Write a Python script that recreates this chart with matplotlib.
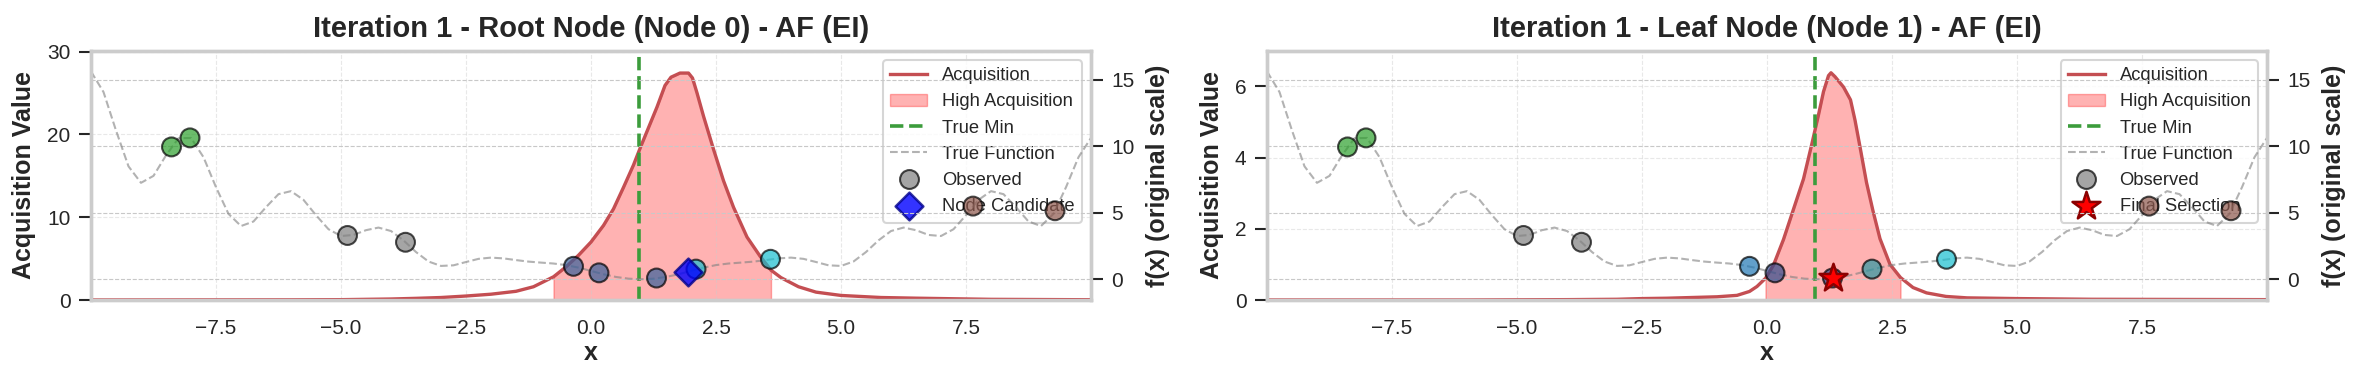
import matplotlib
matplotlib.use("Agg")
import matplotlib.pyplot as plt
import numpy as np
from matplotlib.lines import Line2D

plt.rcParams['font.family'] = ['Liberation Sans', 'DejaVu Sans']
plt.rcParams['text.color'] = '#262626'
plt.rcParams['axes.labelcolor'] = '#262626'

# ---------------- data ----------------
# true function f(x), sampled every 0.25 from -10 to 10
true_f = [15.625, 14.079, 11.189, 8.490, 7.250, 7.774, 9.314, 10.604, 10.625, 9.178,
          6.920, 4.915, 4.000, 4.342, 5.420, 6.398, 6.625, 5.970, 4.814, 3.761,
          3.250, 3.331, 3.689, 3.884, 3.625, 2.922, 2.045, 1.332, 1.000, 1.046,
          1.295, 1.532, 1.625, 1.567, 1.439, 1.325, 1.250, 1.181, 1.064, 0.872,
          0.625, 0.374, 0.170, 0.043, 0.000, 0.043, 0.170, 0.374, 0.625, 0.872,
          1.064, 1.181, 1.250, 1.325, 1.439, 1.567, 1.625, 1.532, 1.295, 1.046,
          1.000, 1.332, 2.045, 2.922, 3.625, 3.884, 3.689, 3.331, 3.250, 3.761,
          4.814, 5.970, 6.625, 6.398, 5.420, 4.342, 4.000, 4.915, 6.920, 9.178,
          10.625]
true_x = np.linspace(-10, 10, len(true_f))
true_min_x = 0.955

# observed points
obs_x = [-8.39, -8.02, -4.87, -3.71, -0.35, 0.16, 1.31, 2.10, 3.59, 7.64, 9.28]
obs_f = [9.95, 10.63, 3.29, 2.78, 0.97, 0.48, 0.09, 0.76, 1.50, 5.50, 5.15]
obs_colors_root = ['#2ca02c', '#2ca02c', '#7f7f7f', '#7f7f7f', '#37609b', '#37609b',
                   '#37609b', '#17becf', '#17becf', '#8c564b', '#8c564b']
obs_colors_leaf = ['#2ca02c', '#2ca02c', '#7f7f7f', '#7f7f7f', '#1f77b4', '#314a8b',
                   '#314a8b', '#2a98a2', '#17becf', '#8c564b', '#8c564b']

# acquisition (EI) - root node
acq_root_x = [-10, -8, -6, -5, -4, -3.5, -3, -2.5, -2, -1.5, -1.15, -0.75, -0.5, -0.25,
              0, 0.25, 0.45, 0.65, 0.85, 1.0, 1.15, 1.32, 1.48, 1.6, 1.78, 1.95, 2.03,
              2.12, 2.25, 2.45, 2.65, 2.85, 3.12, 3.38, 3.6, 3.8, 4.15, 4.5, 5.0, 5.8,
              6.5, 8, 10]
acq_root_y = [0.0, 0.01, 0.02, 0.04, 0.12, 0.2, 0.3, 0.48, 0.7, 1.05, 1.6, 2.8, 4.0, 5.4,
              7.0, 9.0, 11.0, 13.6, 16.3, 18.6, 20.8, 23.3, 25.9, 26.9, 27.4, 27.4, 26.8,
              25.0, 22.2, 18.2, 14.4, 11.2, 7.6, 5.3, 3.6, 2.7, 1.6, 0.95, 0.55, 0.3,
              0.22, 0.08, 0.03]
high_root = (-0.75, 3.6)
cand_root = (1.93, 0.55)

# acquisition (EI) - leaf node
acq_leaf_x = [-10, -6, -4, -3, -2.5, -2, -1.5, -1.0, -0.6, -0.35, -0.2, -0.03, 0.13, 0.33,
              0.53, 0.73, 0.9, 1.03, 1.13, 1.23, 1.28, 1.36, 1.53, 1.67, 1.76, 1.86, 1.99,
              2.12, 2.26, 2.46, 2.67, 2.92, 3.19, 3.58, 4.0, 5.0, 6.5, 10]
acq_leaf_y = [0.0, 0.0, 0.01, 0.02, 0.04, 0.05, 0.07, 0.09, 0.13, 0.24, 0.38, 0.61, 0.98,
              1.7, 2.55, 3.4, 4.4, 5.2, 5.85, 6.3, 6.38, 6.27, 5.98, 5.62, 5.05, 4.3, 3.3,
              2.5, 1.72, 1.0, 0.63, 0.35, 0.2, 0.1, 0.06, 0.04, 0.02, 0.01]
high_leaf = (-0.03, 2.67)
final_sel = (1.32, 0.12)

x_ticks = [-7.5, -5.0, -2.5, 0.0, 2.5, 5.0, 7.5]
f_ticks = [0, 5, 10, 15]

panels = [
    dict(title='Iteration 1 - Root Node (Node 0) - AF (EI)', ax_x=acq_root_x, ax_y=acq_root_y,
         high=high_root, ymax=30.1, yticks=[0, 10, 20, 30], colors=obs_colors_root,
         left=91 / 2358, kind='cand'),
    dict(title='Iteration 1 - Leaf Node (Node 1) - AF (EI)', ax_x=acq_leaf_x, ax_y=acq_leaf_y,
         high=high_leaf, ymax=7.0, yticks=[0, 2, 4, 6], colors=obs_colors_leaf,
         left=1267 / 2358, kind='final'),
]

fig = plt.figure(figsize=(23.58, 3.86), dpi=100)
fig.patch.set_facecolor('white')

SPINE = '#cccccc'
TXT = '#262626'

for p in panels:
    ax = fig.add_axes([p['left'], 86 / 386, 1000 / 2358, 249.3 / 386])
    ax.set_facecolor('white')
    xa = np.array(p['ax_x'], dtype=float)
    ya = np.array(p['ax_y'], dtype=float)
    lo, hi = p['high']
    mask = (xa >= lo - 1e-9) & (xa <= hi + 1e-9)
    ax.plot(xa, ya, color='#C44E52', lw=2.4, label='Acquisition', zorder=3)
    ax.fill_between(xa, 0, ya, where=mask, color='red', alpha=0.3, lw=1.0,
                    label='High Acquisition', zorder=1)
    ax.axvline(true_min_x, color='#3c9c3c', ls='--', lw=2.6, label='True Min', zorder=4)
    ax.set_xlim(-10, 10)
    ax.set_ylim(0, p['ymax'])
    ax.set_xticks(x_ticks)
    ax.set_yticks(p['yticks'])
    ax.grid(True, ls='--', lw=0.8, color='#cccccc', alpha=0.45)
    ax.tick_params(axis='y', length=8.3, width=1.5, pad=6.5, labelsize=15, colors=TXT)
    ax.tick_params(axis='x', length=0, pad=13.5, labelsize=15, colors=TXT)
    for s in ax.spines.values():
        s.set_color(SPINE)
        s.set_linewidth(2.4)
    ax.set_xlabel('x', fontsize=18, fontweight='bold', labelpad=2)
    ax.set_ylabel('Acquisition Value', fontsize=18, fontweight='bold', labelpad=8)
    ax.set_title(p['title'], fontsize=21, fontweight='bold', pad=10)

    ax2 = ax.twinx()
    ax2.plot(true_x, true_f, color='#808080', ls='--', lw=1.5, alpha=0.6,
             label='True Function', zorder=2)
    ax2.scatter(obs_x, obs_f, c=p['colors'], s=185, alpha=0.7, edgecolors='black',
                linewidths=1.5, zorder=5)
    if p['kind'] == 'cand':
        mk = ax2.scatter([cand_root[0]], [cand_root[1]], marker='D', s=200, c='blue',
                         alpha=0.8, edgecolors='darkblue', linewidths=1.8, zorder=6,
                         label='Node Candidate')
        mk_label = 'Node Candidate'
    else:
        mk = ax2.scatter([final_sel[0]], [final_sel[1]], marker='*', s=450, c='red',
                         edgecolors='darkred', linewidths=1.8, zorder=6,
                         label='Final Selection')
        mk_label = 'Final Selection'
    ax2.set_ylim(-1.5625, 17.1875)
    ax2.set_yticks(f_ticks)
    ax2.grid(True, ls='--', lw=0.8, color='#c8c8c8')
    ax2.tick_params(axis='y', length=8.3, width=1.5, pad=6.5, labelsize=15, colors=TXT)
    for s in ax2.spines.values():
        s.set_color(SPINE)
        s.set_linewidth(2.4)
    ax2.set_ylabel('f(x) (original scale)', fontsize=18, fontweight='bold', labelpad=8)

    h1, l1 = ax.get_legend_handles_labels()
    tf = ax2.get_lines()[0]
    obs_proxy = Line2D([], [], ls='none', marker='o', markersize=np.sqrt(185),
                       markerfacecolor='#7f7f7f', markeredgecolor='black',
                       markeredgewidth=1.5, alpha=0.7)
    handles = h1 + [tf, obs_proxy, mk]
    labels = l1 + ['True Function', 'Observed', mk_label]
    leg = ax.legend(handles, labels, loc='upper right', fontsize=13.25, frameon=True,
                    fancybox=True, framealpha=0.8, edgecolor='#cccccc')
    leg.get_frame().set_linewidth(1.5)

fig.savefig('out.png', dpi=100, facecolor='white')
